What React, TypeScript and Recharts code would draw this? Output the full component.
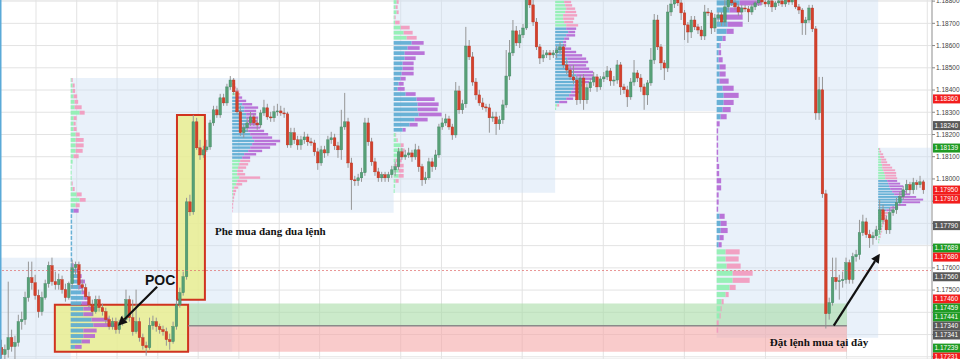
import {
  Bar,
  CartesianGrid,
  ComposedChart,
  ReferenceArea,
  ReferenceDot,
  ReferenceLine,
  XAxis,
  YAxis,
} from "recharts";

type Hlc = [number, number, number];
type Row = [number, number];

// candles: [high, low, close], open = previous close
const firstOpen = 1.17241;

const s0Candles: Hlc[] = [
  [1.17277, 1.17192, 1.1721], [1.17255, 1.17187, 1.17232], [1.17538, 1.17196, 1.17286], [1.17322, 1.17223, 1.17246],
  [1.17295, 1.17187, 1.17264], [1.17389, 1.17246, 1.17358], [1.17403, 1.17322, 1.17367], [1.17493, 1.17344, 1.17466],
  [1.17628, 1.17448, 1.17556], [1.17628, 1.17502, 1.17533], [1.17569, 1.17457, 1.17475], [1.17502, 1.17376, 1.17403],
  [1.17493, 1.17385, 1.17466], [1.17547, 1.17457, 1.17529], [1.17628, 1.17511, 1.1761], [1.17646, 1.1752, 1.17538],
  [1.17583, 1.17502, 1.17524], [1.17574, 1.17502, 1.17547], [1.17565, 1.17484, 1.17502], [1.17529, 1.17448, 1.17466],
  [1.17538, 1.17457, 1.17529],
];

const s1Candles: Hlc[] = [
  [1.17637, 1.17511, 1.17601], [1.17628, 1.17569, 1.17614], [1.17628, 1.17502, 1.17524], [1.17547, 1.17493, 1.17511],
  [1.17529, 1.17457, 1.1747], [1.17493, 1.17421, 1.17434], [1.17457, 1.17385, 1.17403], [1.17475, 1.17394, 1.17457],
  [1.17475, 1.17403, 1.17421], [1.17439, 1.17385, 1.17403], [1.17421, 1.17349, 1.17367], [1.17385, 1.17322, 1.17336],
  [1.17376, 1.17322, 1.17358], [1.17376, 1.17304, 1.17322], [1.17367, 1.17304, 1.17353], [1.17385, 1.1734, 1.17367],
  [1.17502, 1.17358, 1.17457], [1.17475, 1.17358, 1.17376], [1.17457, 1.17295, 1.17313], [1.17502, 1.17304, 1.17358],
  [1.17376, 1.17268, 1.17286], [1.17304, 1.17232, 1.1725], [1.17268, 1.17205, 1.17241], [1.17376, 1.17232, 1.1734],
  [1.17385, 1.17322, 1.17358], [1.17376, 1.17313, 1.17336], [1.17349, 1.17304, 1.17322], [1.1734, 1.17295, 1.17313],
  [1.17331, 1.1725, 1.17277], [1.17304, 1.17232, 1.17268], [1.17358, 1.17259, 1.17336], [1.17457, 1.17322, 1.17434],
  [1.17511, 1.17421, 1.17488], [1.17583, 1.17475, 1.1756], [1.17915, 1.17547, 1.17897], [1.17929, 1.17834, 1.17852],
  [1.18288, 1.17839, 1.18257], [1.18275, 1.18131, 1.1814], [1.18176, 1.18086, 1.18108], [1.18149, 1.18095, 1.18131],
  [1.18176, 1.18122, 1.18144], [1.18266, 1.18131, 1.18252], [1.18329, 1.18239, 1.18311], [1.18329, 1.18275, 1.18288],
  [1.18383, 1.18275, 1.18365], [1.18383, 1.18329, 1.18342], [1.18428, 1.18329, 1.18414], [1.18463, 1.18401, 1.18445],
];

const s2Candles: Hlc[] = [
  [1.18454, 1.18378, 1.18392], [1.1841, 1.18293, 1.18302], [1.18329, 1.18194, 1.18208], [1.18248, 1.18185, 1.1823],
  [1.18275, 1.18212, 1.18252], [1.18302, 1.18239, 1.18279], [1.18293, 1.18239, 1.18252], [1.18275, 1.18221, 1.18243],
  [1.18311, 1.1823, 1.18297], [1.18356, 1.18284, 1.1832], [1.18338, 1.18266, 1.18279], [1.18302, 1.18257, 1.18275],
  [1.18329, 1.18257, 1.18302], [1.18338, 1.18284, 1.18306], [1.18329, 1.18284, 1.18297], [1.1832, 1.18275, 1.18293],
  [1.18302, 1.1814, 1.18153], [1.1823, 1.1814, 1.18208], [1.1823, 1.18158, 1.18176], [1.18194, 1.18131, 1.18153],
  [1.18194, 1.18131, 1.18176], [1.18212, 1.18158, 1.18189], [1.18203, 1.18149, 1.18167], [1.18185, 1.18149, 1.18162],
  [1.18176, 1.18104, 1.18122], [1.1814, 1.18041, 1.18072], [1.18149, 1.18059, 1.18131], [1.18149, 1.18095, 1.18117],
  [1.18194, 1.18104, 1.18176], [1.18212, 1.18158, 1.18185], [1.18203, 1.18131, 1.18149], [1.18167, 1.18095, 1.18131],
  [1.18311, 1.18086, 1.18234], [1.18387, 1.18221, 1.18257], [1.18275, 1.1805, 1.18072], [1.18095, 1.17861, 1.17996],
  [1.18014, 1.17969, 1.17992], [1.18023, 1.17969, 1.18005], [1.1805, 1.17987, 1.18028], [1.18275, 1.18014, 1.18252],
  [1.18275, 1.18149, 1.18167], [1.18185, 1.18059, 1.18077], [1.18095, 1.18014, 1.18032], [1.1805, 1.17987, 1.18005],
  [1.18032, 1.17987, 1.18019], [1.18032, 1.17987, 1.18005], [1.18032, 1.17987, 1.18019], [1.18059, 1.18005, 1.18041],
];

const s3Candles: Hlc[] = [
  [1.18077, 1.18014, 1.18055], [1.1814, 1.18041, 1.18122], [1.1814, 1.18086, 1.18099], [1.18131, 1.18086, 1.18108],
  [1.1814, 1.18095, 1.18117], [1.18131, 1.18077, 1.18099], [1.18158, 1.18086, 1.18131], [1.18149, 1.18032, 1.18055],
  [1.18068, 1.17969, 1.17996], [1.18032, 1.17978, 1.18005], [1.18095, 1.17996, 1.18077], [1.18095, 1.18032, 1.18055],
  [1.18131, 1.18041, 1.18108], [1.18248, 1.18095, 1.18234], [1.18275, 1.18221, 1.18252], [1.18293, 1.18239, 1.1827],
  [1.18284, 1.18221, 1.18234], [1.18248, 1.18176, 1.18198], [1.18436, 1.18185, 1.18396], [1.18419, 1.18293, 1.18311],
  [1.18356, 1.18293, 1.18338], [1.18684, 1.1832, 1.18598], [1.18625, 1.18535, 1.18549], [1.18571, 1.18419, 1.18436],
  [1.18454, 1.18356, 1.18378], [1.18401, 1.18329, 1.18342], [1.18365, 1.18311, 1.18324], [1.18338, 1.18302, 1.1832],
  [1.18338, 1.18208, 1.18275], [1.18302, 1.18257, 1.18279], [1.18302, 1.18198, 1.18248], [1.18284, 1.18221, 1.18266],
  [1.18356, 1.18248, 1.18333], [1.1858, 1.1832, 1.18463], [1.18625, 1.18445, 1.18567], [1.18715, 1.18553, 1.18666],
  [1.18688, 1.18598, 1.18612], [1.1867, 1.18589, 1.18648], [1.18697, 1.18634, 1.18679], [1.18872, 1.1867, 1.18818],
  [1.18859, 1.18769, 1.18783], [1.18805, 1.18688, 1.18706], [1.18724, 1.1858, 1.18594], [1.18607, 1.18517, 1.18544],
  [1.1858, 1.18526, 1.18558], [1.1858, 1.18544, 1.18567], [1.1858, 1.18535, 1.18558], [1.1858, 1.18544, 1.18567],
];

const s4Candles: Hlc[] = [
  [1.18598, 1.18544, 1.1858], [1.18616, 1.18562, 1.18594], [1.18607, 1.18499, 1.18513], [1.18535, 1.18472, 1.1849],
  [1.18508, 1.18445, 1.18459], [1.18513, 1.18428, 1.18445], [1.18463, 1.18333, 1.18356], [1.18468, 1.18338, 1.18454],
  [1.18472, 1.18311, 1.18356], [1.18428, 1.18338, 1.1841], [1.18454, 1.18392, 1.18436], [1.18481, 1.18419, 1.18459],
  [1.18472, 1.18392, 1.18414], [1.18463, 1.18401, 1.1845], [1.18481, 1.18436, 1.18459], [1.18508, 1.18445, 1.18486],
  [1.18499, 1.18419, 1.18441], [1.18463, 1.18419, 1.18445], [1.18535, 1.18428, 1.18513], [1.18526, 1.18378, 1.18414],
  [1.18428, 1.18383, 1.18401], [1.18419, 1.18324, 1.18369], [1.18454, 1.18356, 1.18436], [1.18535, 1.18419, 1.18477],
  [1.1849, 1.18436, 1.18454], [1.18472, 1.18392, 1.18414], [1.18428, 1.18311, 1.18378], [1.18445, 1.18333, 1.18432],
  [1.18589, 1.18419, 1.18535], [1.18742, 1.18517, 1.18715], [1.18738, 1.1858, 1.18594], [1.18607, 1.1849, 1.18522],
  [1.18535, 1.18445, 1.18499], [1.18783, 1.18481, 1.18751], [1.18805, 1.18733, 1.18787], [1.18841, 1.18769, 1.18805],
  [1.18827, 1.18778, 1.18792], [1.18805, 1.18715, 1.18747], [1.1876, 1.18625, 1.18693], [1.18706, 1.18612, 1.18661],
  [1.18733, 1.18634, 1.18715], [1.18733, 1.1867, 1.18684], [1.18697, 1.18652, 1.1867], [1.18688, 1.18625, 1.18643],
  [1.18783, 1.18625, 1.18751], [1.18769, 1.18733, 1.18747], [1.1876, 1.18652, 1.18679], [1.18742, 1.18661, 1.18724],
];

const s5Candles: Hlc[] = [
  [1.18751, 1.18706, 1.18738], [1.18751, 1.18688, 1.18706], [1.18805, 1.18688, 1.18774], [1.18841, 1.1876, 1.18805],
  [1.18823, 1.18778, 1.18792], [1.18805, 1.1876, 1.18774], [1.18787, 1.18733, 1.18751], [1.18783, 1.18738, 1.18769],
  [1.18783, 1.18751, 1.18765], [1.18778, 1.18706, 1.18751], [1.18787, 1.18738, 1.18774], [1.18801, 1.1876, 1.18792],
  [1.18827, 1.18778, 1.18805], [1.18818, 1.18783, 1.18796], [1.18805, 1.18774, 1.18787], [1.18814, 1.18774, 1.18801],
  [1.18809, 1.18751, 1.18774], [1.18801, 1.1876, 1.18792], [1.18814, 1.18778, 1.18801], [1.18809, 1.18774, 1.18787],
  [1.18823, 1.18774, 1.18805], [1.18818, 1.18783, 1.18796], [1.18823, 1.18783, 1.18805], [1.18818, 1.18765, 1.18774],
  [1.18787, 1.18742, 1.1876], [1.18769, 1.18648, 1.18702], [1.18729, 1.18648, 1.18715], [1.18783, 1.18702, 1.18769],
  [1.18783, 1.18661, 1.18675], [1.18688, 1.18266, 1.18297], [1.18459, 1.18266, 1.18401], [1.18459, 1.17915, 1.17933],
  [1.17951, 1.17327, 1.17394], [1.17466, 1.17367, 1.17443], [1.17646, 1.1743, 1.17556], [1.17646, 1.17502, 1.17538],
  [1.17569, 1.17457, 1.17542], [1.17583, 1.17511, 1.17547], [1.17646, 1.17529, 1.17623], [1.17637, 1.17529, 1.17547],
  [1.17668, 1.17529, 1.1765], [1.17681, 1.17628, 1.17659], [1.17816, 1.17637, 1.17758], [1.17839, 1.17744, 1.17807],
  [1.17825, 1.17735, 1.17749], [1.17771, 1.1769, 1.17735], [1.17762, 1.17704, 1.17744], [1.17789, 1.17726, 1.17771],
];

const s6Candles: Hlc[] = [
  [1.17906, 1.17753, 1.17861], [1.17884, 1.17798, 1.17816], [1.17834, 1.17753, 1.17771], [1.1787, 1.17753, 1.17848],
  [1.17879, 1.17834, 1.17861], [1.17915, 1.17843, 1.17893], [1.17942, 1.17879, 1.1792], [1.17969, 1.17906, 1.17951],
  [1.17996, 1.17933, 1.17974], [1.17987, 1.17933, 1.17951], [1.18005, 1.17933, 1.17983], [1.17996, 1.17951, 1.17974],
  [1.18014, 1.1796, 1.17987], [1.17996, 1.17933, 1.17951],
];

// sessions (bar index bounds and price range)
const sessionStart = [-27, 21, 69, 117, 165, 213, 261];
const sessionEnd = [21, 69, 117, 165, 213, 261, 277];
const sessionHigh = [1.17646, 1.18454, 1.18454, 1.18895, 1.18895, 1.18895, 1.1814];
const sessionLow = [1.1716, 1.17223, 1.17848, 1.17938, 1.18306, 1.17286, 1.17704];

// volume profile rows: [buy, sell], top row first
const s1Profile: Row[] = [
  [1, 1], [2, 2], [2, 2.5], [3, 3.5], [4, 3.5], [4, 7], [9, 5], [3, 3], [3, 2], [3, 3], [5, 4], [5, 8],
  [5, 8], [5, 7], [3, 5], [2, 0], [1, 0], [1, 0], [1, 0], [1, 1], [2, 2], [6, 5], [9, 6], [5, 4],
  [3, 5], [1.5, 0], [1.5, 0], [1.5, 0], [1.5, 0], [1.5, 0], [1.5, 0], [1.5, 0], [1.5, 0], [1.5, 0], [2, 1],
  [6, 3], [7.7, 3.3], [9.3, 5], [7.7, 5], [11, 5], [12.7, 5], [11, 8.3], [12.7, 11.7], [12.7, 10], [21, 18],
  [22.7, 21.7], [12.7, 13.3], [12.7, 11.7], [11, 8.3], [4.3, 6.7],
];
const s2Profile: Row[] = [
  [1, 1], [2, 1], [2, 2], [3, 4], [3, 5],
  [4, 6], [6, 8], [10, 10], [12, 14], [12, 12], [14, 10], [14, 12], [15, 10], [15, 12], [14, 14], [16, 16],
  [18, 18], [20, 20], [22, 26], [20, 24], [18, 20], [16, 14], [12, 12], [10, 8],
  [8, 10], [7, 9], [6, 8], [5, 6], [5, 8], [7, 21], [5, 10], [4, 6], [2, 4], [1, 3], [1, 2], [0.5, 1.5],
  [0.5, 1], [0, 1], [0, 1], [0, 0.5],
];
const s3Profile: Row[] = [
  [3, 2], [2, 2], [3, 2], [1, 1], [1.5, 4.5], [7, 9], [10, 9], [13, 10],
  [18, 12], [14, 12], [11, 20], [11, 11], [9, 11], [9, 11], [8, 12], [7, 5], [5, 5], [4, 7], [12, 10],
  [23, 18], [24, 21], [24, 20], [25, 23], [21, 13], [16, 8], [9, 3],
  [2, 0.5], [3, 1], [7, 3], [9, 2], [4, 5], [2, 6], [1, 9], [5, 5], [5, 5], [2, 3], [1.5, 0], [1, 0],
];
const s4Profile: Row[] = [
  [9, 7], [10, 7], [11, 9], [10, 11], [8, 14], [8, 11], [9, 9], [11, 12],
  [11, 10], [13, 7], [11, 9], [9, 5], [8, 3], [8, 3], [8, 8], [9, 12], [10, 17], [12, 19], [13, 20],
  [13, 18], [14, 20], [18, 20], [21, 17], [23, 17], [21, 13], [19, 8], [18, 8], [16, 8], [14, 7], [11, 7], [4, 8],
  [2, 2], [1, 0],
];
const s5Profile: Row[] = [
  [23, 22], [13, 13], [9, 17], [11, 15], [10, 7], [6, 3], [3, 1], [2, 2.5], [2, 4], [3, 6], [3, 6], [3, 9],
  [6, 11], [7, 15], [7, 10], [6, 8], [4, 6], [0, 3], [0, 1.5], [0, 1.5], [0, 1.5], [0, 1.5], [0, 1.5],
  [0, 2.5], [0, 2.5], [0, 4.5], [0, 4.5], [0, 2], [0, 2], [0, 1.5], [3, 5], [4, 6], [4, 7], [3, 4], [2, 3],
  [9, 14], [9, 13], [10, 14], [16, 20], [16, 17], [13, 6], [9, 3], [5, 2], [4, 1], [3, 1], [0, 2], [0, 1.5],
];
const s6Profile: Row[] = [
  [1, 1], [1, 2], [2, 3], [2, 4], [3, 5], [3, 6], [4, 8], [4, 10], [5, 12], [6, 12], [7, 11], [7, 12],
  [9, 10], [10, 12], [11, 14], [12, 12], [14, 14], [16, 16], [20, 18], [25, 20], [24, 18], [18, 10], [12, 8], [8, 6],
  [6, 4], [6, 3], [5, 3], [5, 2], [4, 2], [4, 1], [3, 1], [3, 1], [2, 1], [2, 0.5], [1, 0.5], [1, 0],
];

const profileStart = [21, 69, 117, 165, 213, 261];
const profileTop = [1.18445, 1.18441, 1.18796, 1.18796, 1.18792, 1.18135];
const profileStep = [0.000245, 0.00015, 0.00023, 0.00015, 0.00032, 0.00012];
const valueArea: [number, number][] = [[24, 49], [5, 23], [8, 25], [8, 30], [0, 34], [12, 23]];
const profileRows = [s1Profile, s2Profile, s3Profile, s4Profile, s5Profile, s6Profile];

// axis
const priceGrid = [
  1.172, 1.173, 1.174, 1.175, 1.176, 1.177, 1.178, 1.179, 1.18, 1.181, 1.182, 1.183, 1.184, 1.185, 1.186, 1.187, 1.188,
];
const labelledPrices = [1.188, 1.187, 1.186, 1.185, 1.184, 1.183, 1.182, 1.181, 1.18, 1.176, 1.175];
const timeTicks = [
  10.7, 22.8, 34.8, 46.9, 58.9, 71.0, 83.0, 95.0, 107.1, 119.1, 131.2, 143.2, 155.2, 167.3, 179.3, 191.4,
  203.4, 215.4, 227.5, 239.5, 251.6, 263.6, 275.6,
];

// price tags on the right scale
const tagPrices = [
  1.1836, 1.1824, 1.18139, 1.1795, 1.1791, 1.1779, 1.17689, 1.1768, 1.1756, 1.1746, 1.17459, 1.17441, 1.1734,
  1.17341, 1.17239, 1.17231,
];
const tagKinds = ["r", "d", "g", "r", "r", "d", "g", "r", "d", "r", "g", "g", "d", "d", "g", "r"];

const allCandles = [...s0Candles, ...s1Candles, ...s2Candles, ...s3Candles, ...s4Candles, ...s5Candles, ...s6Candles];
const candles = allCandles.map(([high, low, close], i) => {
  const open = i === 0 ? firstOpen : allCandles[i - 1][2];
  return {
    t: i + 0.5,
    open,
    close,
    high: Math.max(high, open, close),
    low: Math.min(low, open, close),
  };
});

const VOL_TO_BARS = 0.297;
const TAG_GAP = 0.000405;
const tagColors: Record<string, string> = { r: "#f21d1d", g: "#1f9b24", d: "#595959" };
const axisFont = "'Liberation Sans', Arial, sans-serif";

let prevTag = Infinity;
const tagPositions = tagPrices.map((p) => {
  const pos = Math.min(p, prevTag - TAG_GAP);
  prevTag = pos;
  return pos;
});

function Candle(props: any) {
  const { x, y, width, height, payload } = props;
  if (!payload) return null;
  const { open, close, high, low } = payload;
  const top = Math.min(y, y + height);
  const h = Math.abs(height);
  const cx = x + width / 2;
  const span = high - low || 1e-9;
  const py = (p: number) => top + ((high - p) / span) * h;
  const up = close >= open;
  const bTop = py(Math.max(open, close));
  const bBot = py(Math.min(open, close));
  return (
    <g>
      <line x1={cx} x2={cx} y1={top} y2={top + h} stroke="#969696" strokeWidth={1} />
      <rect
        x={cx - 1.3}
        y={bTop}
        width={2.6}
        height={Math.max(bBot - bTop, 1)}
        fill={up ? "#57a077" : "#d4402b"}
        stroke={up ? "#3f8560" : "#b8321f"}
        strokeWidth={0.4}
      />
    </g>
  );
}

function Arrow(props: any) {
  const { x1, y1, x2, y2 } = props;
  const ang = Math.atan2(y2 - y1, x2 - x1);
  const len = 9;
  const wid = 4.5;
  const bx = x2 - len * Math.cos(ang);
  const by = y2 - len * Math.sin(ang);
  const px = -Math.sin(ang) * wid;
  const py = Math.cos(ang) * wid;
  return (
    <g>
      <line x1={x1} y1={y1} x2={bx} y2={by} stroke="#111" strokeWidth={2.2} />
      <polygon points={`${x2},${y2} ${bx + px},${by + py} ${bx - px},${by - py}`} fill="#111" />
    </g>
  );
}

const renderTick = (props: any) => {
  const { x, y, payload } = props;
  const show = labelledPrices.some((p) => Math.abs(p - payload.value) < 1e-7);
  if (!show) return <g />;
  return (
    <text x={x - 1} y={y + 2.3} fontSize={6.5} fill="#444" fontFamily={axisFont}>
      {payload.value.toFixed(5)}
    </text>
  );
};

const serif = "'Liberation Serif', 'Times New Roman', serif";

export default function App() {
  const shades = sessionStart.map((s, k) => (
    <ReferenceArea
      key={`sh${k}`}
      x1={Math.max(s, 0)}
      x2={sessionEnd[k]}
      y1={sessionLow[k]}
      y2={sessionHigh[k]}
      fill="#cfdff5"
      fillOpacity={0.45}
      stroke="none"
      ifOverflow="hidden"
      zIndex={-60}
    />
  ));

  const profileBars = profileRows.flatMap((rows, k) =>
    rows.flatMap(([a, b], r) => {
      const price = profileTop[k] - r * profileStep[k];
      const inVa = r >= valueArea[k][0] && r <= valueArea[k][1];
      const y1 = price - profileStep[k] * 0.36;
      const y2 = price + profileStep[k] * 0.36;
      const x0 = profileStart[k];
      const xa = x0 + a * VOL_TO_BARS;
      const xb = xa + b * VOL_TO_BARS;
      const out = [];
      if (a > 0)
        out.push(
          <ReferenceArea
            key={`pa${k}-${r}`}
            x1={x0}
            x2={xa}
            y1={y1}
            y2={y2}
            fill={inVa ? "#5aaad2" : "#8ef0b0"}
            fillOpacity={0.9}
            stroke="none"
            ifOverflow="hidden"
          />
        );
      if (b > 0)
        out.push(
          <ReferenceArea
            key={`pb${k}-${r}`}
            x1={xa}
            x2={xb}
            y1={y1}
            y2={y2}
            fill={inVa ? "#b466d4" : "#f298bc"}
            fillOpacity={0.9}
            stroke="none"
            ifOverflow="hidden"
          />
        );
      return out;
    })
  );

  return (
    <div
      style={{
        position: "absolute",
        left: 0,
        top: 0,
        width: 960,
        height: 359,
        background: "#fff",
        fontFamily: axisFont,
      }}
    >
      <ComposedChart width={960} height={359} data={candles} margin={{ top: 0, right: 0, bottom: 0, left: 0 }}>
        <CartesianGrid stroke="#e3e3e3" />
        <XAxis dataKey="t" type="number" domain={[0, 277]} ticks={timeTicks} hide allowDataOverflow />
        <YAxis
          orientation="right"
          width={28}
          domain={[1.1719, 1.18805]}
          ticks={priceGrid}
          interval={0}
          allowDataOverflow
          axisLine={{ stroke: "#c6c6c6", strokeWidth: 2 }}
          tickLine={{ stroke: "#888" }}
          tickSize={3}
          tickMargin={2}
          tick={renderTick}
        />
        {shades}
        <ReferenceArea x1={56} x2={251.7} y1={1.1734} y2={1.1744} fill="#a9dca6" fillOpacity={0.6} stroke="none" zIndex={-50} />
        <ReferenceArea x1={56} x2={251.7} y1={1.17223} y2={1.1734} fill="#f5a9a9" fillOpacity={0.6} stroke="none" zIndex={-50} />
        <ReferenceArea
          x1={16.3}
          x2={55.9}
          y1={1.17223}
          y2={1.17434}
          fill="#ebee88"
          fillOpacity={0.78}
          stroke="#d0331f"
          strokeWidth={2}
          zIndex={-40}
        />
        <ReferenceArea
          x1={52.6}
          x2={60.9}
          y1={1.17457}
          y2={1.18288}
          fill="#ebee88"
          fillOpacity={0.78}
          stroke="#d0331f"
          strokeWidth={2}
          zIndex={-40}
        />
        {profileBars}
        <Bar dataKey={(d: any) => [d.low, d.high]} shape={Candle} barSize={3} isAnimationActive={false} />
        <ReferenceLine y={1.17588} stroke="#e06a6a" strokeDasharray="2 2" strokeOpacity={0.7} />
        <ReferenceLine
          segment={[{ x: 56, y: 1.1734 }, { x: 251.7, y: 1.1734 }]}
          stroke="#8a8a8a"
          strokeWidth={1.5}
        />
        <ReferenceLine x={0} stroke="#5aaad8" strokeWidth={3} />
        <ReferenceLine
          segment={[{ x: 46.7, y: 1.17515 }, { x: 35.1, y: 1.1734 }]}
          shape={Arrow}
          zIndex={2000}
        />
        <ReferenceLine
          segment={[{ x: 247.8, y: 1.1734 }, { x: 261.5, y: 1.17664 }]}
          shape={Arrow}
          zIndex={2000}
        />
        <ReferenceDot
          x={43.1}
          y={1.17524}
          r={1}
          ifOverflow="visible"
          zIndex={2000}
          shape={(p: any) => (
            <text x={p.cx} y={p.cy} fontSize={14} fontWeight="bold" fill="#111">
              POC
            </text>
          )}
        />
        <ReferenceDot
          x={63.9}
          y={1.17749}
          r={1}
          ifOverflow="visible"
          zIndex={2000}
          shape={(p: any) => (
            <text x={p.cx} y={p.cy} fontSize={11} fontWeight="bold" fill="#111" fontFamily={serif}>
              Phe mua đang đua lệnh
            </text>
          )}
        />
        <ReferenceDot
          x={228.8}
          y={1.1725}
          r={1}
          ifOverflow="visible"
          zIndex={2000}
          shape={(p: any) => (
            <text x={p.cx} y={p.cy} fontSize={11} fontWeight="bold" fill="#111" fontFamily={serif}>
              Đặt lệnh mua tại đây
            </text>
          )}
        />
        {tagPositions.map((pos, k) => (
          <ReferenceDot
            key={`tag${k}`}
            x={277}
            y={pos}
            r={1}
            ifOverflow="visible"
            zIndex={2100}
            shape={(p: any) => (
              <g>
                <rect x={p.cx + 1} y={p.cy - 4.5} width={27} height={9} fill={tagColors[tagKinds[k]]} />
                <text x={p.cx + 2.5} y={p.cy + 2.3} fontSize={6.5} fill="#fff" fontFamily={axisFont}>
                  {tagPrices[k].toFixed(5)}
                </text>
              </g>
            )}
          />
        ))}
      </ComposedChart>
    </div>
  );
}
